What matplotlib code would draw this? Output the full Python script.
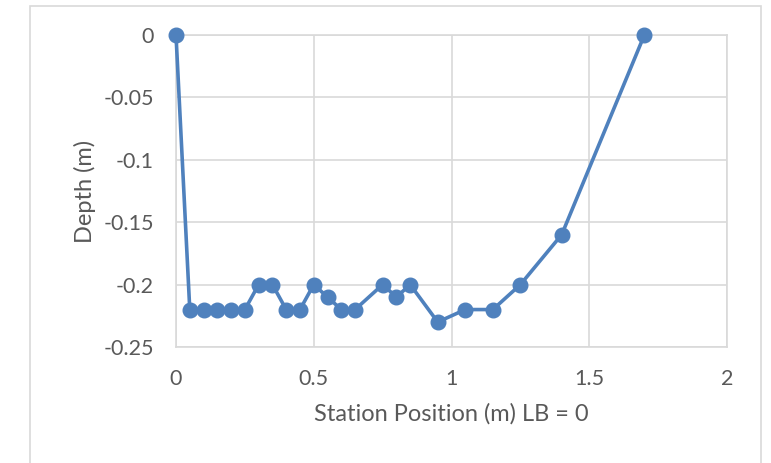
import matplotlib
matplotlib.use("Agg")
import matplotlib.pyplot as plt
from matplotlib.patches import Rectangle

station = [0, 0.05, 0.1, 0.15, 0.2, 0.25, 0.3, 0.35, 0.4, 0.45, 0.5, 0.55,
           0.6, 0.65, 0.75, 0.8, 0.85, 0.95, 1.05, 1.15, 1.25, 1.4, 1.7]
depth = [0, -0.22, -0.22, -0.22, -0.22, -0.22, -0.2, -0.2, -0.22, -0.22, -0.2, -0.21,
         -0.22, -0.22, -0.2, -0.21, -0.2, -0.23, -0.22, -0.22, -0.2, -0.16, 0]
xticks = [0, 0.5, 1, 1.5, 2]
xlabels = ["0", "0.5", "1", "1.5", "2"]
yticks = [0, -0.05, -0.1, -0.15, -0.2, -0.25]
ylabels = ["0", "-0.05", "-0.1", "-0.15", "-0.2", "-0.25"]

plt.rcParams['font.family'] = ['Lato', 'DejaVu Sans']
grid_col = '#D9D9D9'
text_col = '#595959'

fig = plt.figure(figsize=(7.71, 4.63), dpi=100)
ax = fig.add_axes([176/771, 1 - 347/463, (727 - 176)/771, (347 - 35)/463])

# outer chart border
fig.patches.append(Rectangle((30/771, -0.05), (761 - 30)/771, 1 - 6/463 + 0.05,
                             transform=fig.transFigure, fill=False,
                             edgecolor=grid_col, linewidth=1.2))

ax.plot(station, depth, color='#4F81BD', linewidth=2.6, marker='o',
        markersize=10.5, clip_on=False, zorder=3)

ax.set_xlim(0, 2)
ax.set_ylim(-0.25, 0)
ax.set_xticks(xticks)
ax.set_xticklabels(xlabels)
ax.set_yticks(yticks)
ax.set_yticklabels(ylabels)
ax.grid(True, color=grid_col, linewidth=1.2)
ax.set_axisbelow(True)
for s in ax.spines.values():
    s.set_color(grid_col)
    s.set_linewidth(1.2)
ax.tick_params(axis='x', length=0, labelsize=15.5, colors=text_col, pad=16)
ax.tick_params(axis='y', length=0, labelsize=15.5, colors=text_col, pad=16)

ax.set_xlabel("Station Position (m) LB = 0", fontsize=17, color=text_col, labelpad=10)
ax.set_ylabel("Depth (m)", fontsize=17, color=text_col, labelpad=5)

fig.savefig("out.png", dpi=100)
